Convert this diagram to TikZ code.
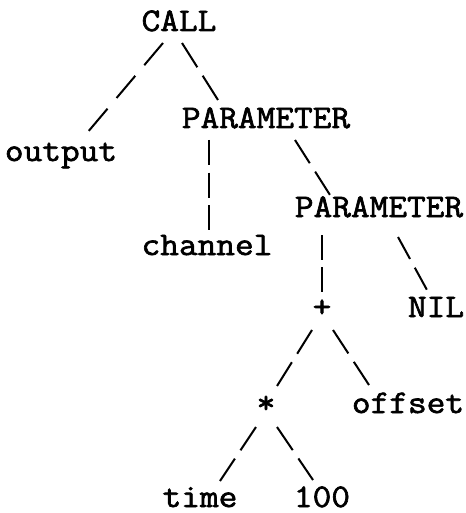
\documentclass[tikz,border=0pt]{standalone}
\usepackage{fontspec}
\newfontfamily\treefont{Latin Modern Mono}[FakeStretch=1.1,FakeBold=2]
\begin{document}
\begin{tikzpicture}[x=1pt,y=-1pt,
  lbl/.style={anchor=base,inner sep=0pt,font=\treefont\fontsize{33}{38}\selectfont},
  edge/.style={line width=2pt,line cap=butt}]
\useasboundingbox (0,0) rectangle (465,513);
\node[lbl] (call) at (179,31) {CALL};
\node[lbl] (output) at (61,161) {output};
\node[lbl] (p1) at (266,128) {PARAMETER};
\node[lbl] (channel) at (207,255) {channel};
\node[lbl] (p2) at (379,217) {PARAMETER};
\node[lbl] (plus) at (322,317) {+};
\node[lbl] (nil) at (436,317) {NIL};
\node[lbl] (star) at (266,413) {*};
\node[lbl] (offset) at (408,413) {offset};
\node[lbl] (time) at (200,507) {time};
\node[lbl] (hundred) at (322,507) {100};
\draw[edge,dash pattern=on 29pt off 14pt] ([shift={(-16,12)}]call.base) -- ([shift={(26,-28)}]output.base);
\draw[edge,dash pattern=on 28.7pt off 10pt] ([shift={(3,12)}]call.base) -- ([shift={(-48,-28)}]p1.base);
\draw[edge,dash pattern=on 25pt off 7.5pt] ([shift={(-57,12)}]p1.base) -- ([shift={(2,-25)}]channel.base);
\draw[edge,dash pattern=on 27.5pt off 10pt] ([shift={(29,12)}]p1.base) -- ([shift={(-49,-22)}]p2.base);
\draw[edge,dash pattern=on 25pt off 7pt] ([shift={(-57,18)}]p2.base) -- ([shift={(0,-25)}]plus.base);
\draw[edge,dash pattern=on 25pt off 10pt] ([shift={(19,20)}]p2.base) -- ([shift={(-9,-27)}]nil.base);
\draw[edge,dash pattern=on 28pt off 10pt] ([shift={(-10,13)}]plus.base) -- ([shift={(11,-27)}]star.base);
\draw[edge,dash pattern=on 28pt off 10pt] ([shift={(11,13)}]plus.base) -- ([shift={(-39,-28)}]offset.base);
\draw[edge,dash pattern=on 28pt off 10pt] ([shift={(-10,14)}]star.base) -- ([shift={(20,-26)}]time.base);
\draw[edge,dash pattern=on 28pt off 10pt] ([shift={(11,14)}]star.base) -- ([shift={(-9,-27)}]hundred.base);
\end{tikzpicture}
\end{document}
